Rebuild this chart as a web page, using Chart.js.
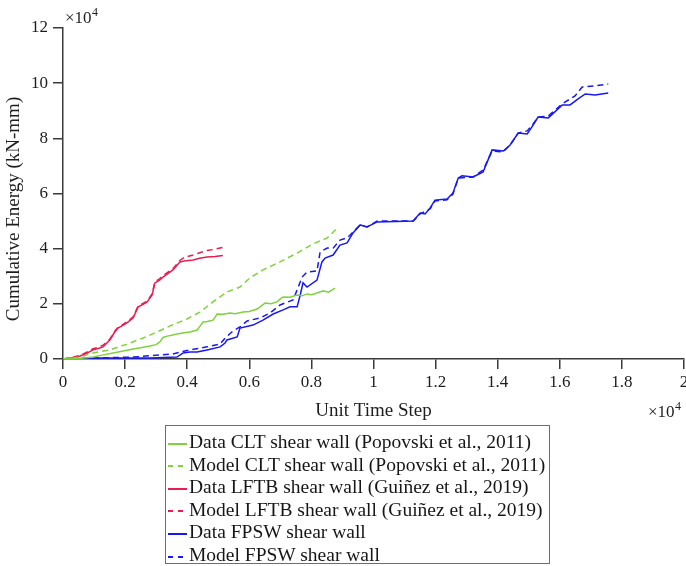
<!DOCTYPE html>
<html>
<head>
<meta charset="utf-8">
<script src="https://cdn.jsdelivr.net/npm/chart.js@4.4.1/dist/chart.umd.min.js"></script>
<style>
  html, body { margin: 0; padding: 0; background: #fff; }
  #wrap { position: relative; width: 686px; height: 566px; overflow: hidden; }
  #energyChart { position: absolute; left: 0; top: 0; }
  .legend {
    position: absolute; left: 165px; top: 425px; width: 385px; height: 139px;
    box-sizing: border-box; border: 1px solid #6e6e6e; padding-top: 5px;
    font-family: "Liberation Serif", "Times New Roman", serif; font-size: 19.5px; color: #161616;
  }
  .legend .row { height: 22.6px; line-height: 22.6px; white-space: nowrap; }
  .legend .swatch { display: inline-block; width: 19px; height: 2px; margin: 0 2px 0 2px; vertical-align: middle; }
</style>
</head>
<body>
<div id="wrap">
  <canvas id="energyChart" width="686" height="566"></canvas>
  <div class="legend" id="legend"></div>
</div>
<script>
// axis ticks (values are in units of 10^4)
const xTicks = [0, 0.2, 0.4, 0.6, 0.8, 1, 1.2, 1.4, 1.6, 1.8, 2];
const xTickLabels = ['0', '0.2', '0.4', '0.6', '0.8', '1', '1.2', '1.4', '1.6', '1.8', '2'];
const yTicks = [0, 2, 4, 6, 8, 10, 12];
const yTickLabels = ['0', '2', '4', '6', '8', '10', '12'];

// [unit time step, cumulative energy], both x 10^4
const cltData = [[0,0],[0.06,0.03],[0.097,0.07],[0.13,0.15],[0.161,0.22],[0.19,0.28],[0.226,0.36],[0.25,0.41],[0.28,0.47],[0.3,0.52],[0.312,0.62],[0.322,0.78],[0.335,0.83],[0.35,0.86],[0.367,0.91],[0.39,0.95],[0.409,0.98],[0.432,1.05],[0.442,1.2],[0.451,1.34],[0.465,1.36],[0.483,1.41],[0.49,1.52],[0.496,1.63],[0.515,1.62],[0.538,1.67],[0.555,1.64],[0.58,1.7],[0.6,1.72],[0.625,1.81],[0.638,1.92],[0.651,2.03],[0.67,2.0],[0.689,2.07],[0.7,2.18],[0.709,2.25],[0.73,2.24],[0.754,2.32],[0.77,2.29],[0.786,2.36],[0.8,2.33],[0.818,2.39],[0.838,2.47],[0.855,2.42],[0.876,2.57]];
const cltModel = [[0,0],[0.055,0.07],[0.097,0.22],[0.151,0.33],[0.206,0.54],[0.258,0.76],[0.303,0.98],[0.345,1.2],[0.399,1.45],[0.441,1.7],[0.483,2.07],[0.528,2.43],[0.57,2.61],[0.602,2.94],[0.644,3.23],[0.699,3.52],[0.754,3.84],[0.805,4.17],[0.851,4.39],[0.88,4.71]];
const lftbData = [[0,0],[0.032,0.05],[0.055,0.11],[0.075,0.2],[0.097,0.33],[0.113,0.38],[0.129,0.44],[0.151,0.69],[0.165,0.95],[0.177,1.12],[0.19,1.2],[0.206,1.31],[0.226,1.49],[0.242,1.89],[0.258,1.98],[0.271,2.07],[0.287,2.32],[0.296,2.76],[0.31,2.85],[0.322,2.97],[0.354,3.23],[0.367,3.4],[0.377,3.52],[0.39,3.55],[0.419,3.59],[0.44,3.65],[0.464,3.7],[0.49,3.72],[0.515,3.75]];
const lftbModel = [[0,0],[0.032,0.06],[0.055,0.13],[0.075,0.24],[0.097,0.37],[0.113,0.42],[0.129,0.5],[0.151,0.72],[0.165,0.98],[0.177,1.15],[0.19,1.23],[0.206,1.35],[0.226,1.53],[0.242,1.92],[0.258,2.02],[0.271,2.1],[0.287,2.36],[0.296,2.8],[0.31,2.9],[0.322,3.02],[0.354,3.27],[0.367,3.45],[0.377,3.58],[0.39,3.68],[0.419,3.77],[0.44,3.85],[0.464,3.93],[0.49,3.98],[0.515,4.05]];
const fpswData = [[0,0],[0.119,0.04],[0.28,0.04],[0.367,0.07],[0.387,0.22],[0.409,0.25],[0.432,0.25],[0.464,0.33],[0.506,0.44],[0.522,0.58],[0.528,0.69],[0.561,0.8],[0.57,1.12],[0.612,1.23],[0.644,1.41],[0.677,1.63],[0.709,1.78],[0.731,1.89],[0.754,1.89],[0.764,2.32],[0.773,2.76],[0.786,2.61],[0.818,2.86],[0.834,3.52],[0.844,3.66],[0.87,3.77],[0.892,4.13],[0.915,4.21],[0.934,4.57],[0.957,4.86],[0.979,4.79],[1.012,4.97],[1.128,5.0],[1.15,5.29],[1.166,5.26],[1.182,5.47],[1.198,5.76],[1.237,5.8],[1.256,6.02],[1.273,6.56],[1.285,6.64],[1.321,6.6],[1.353,6.78],[1.369,7.22],[1.382,7.58],[1.418,7.54],[1.44,7.76],[1.466,8.19],[1.495,8.16],[1.514,8.48],[1.53,8.77],[1.563,8.74],[1.608,9.21],[1.633,9.21],[1.659,9.43],[1.682,9.61],[1.714,9.57],[1.756,9.64]];
const fpswModel = [[0,0],[0.119,0.04],[0.226,0.07],[0.354,0.18],[0.377,0.25],[0.409,0.33],[0.464,0.44],[0.506,0.54],[0.522,0.76],[0.548,1.02],[0.57,1.16],[0.593,1.38],[0.635,1.49],[0.667,1.67],[0.699,1.96],[0.741,2.14],[0.764,2.79],[0.77,2.97],[0.786,3.15],[0.818,3.19],[0.828,3.88],[0.851,4.02],[0.87,4.02],[0.892,4.31],[0.915,4.39],[0.931,4.57],[0.957,4.86],[0.979,4.79],[1.012,5.0],[1.128,5.0],[1.15,5.26],[1.182,5.44],[1.198,5.73],[1.237,5.77],[1.256,5.98],[1.273,6.56],[1.321,6.6],[1.353,6.85],[1.382,7.54],[1.418,7.51],[1.44,7.76],[1.466,8.19],[1.495,8.27],[1.514,8.52],[1.53,8.77],[1.563,8.81],[1.608,9.25],[1.649,9.54],[1.672,9.86],[1.714,9.9],[1.756,9.97]];

const GREEN = '#7fd23c';
const RED = '#ea1c50';
const BLUE = '#1818f2';
const AXIS = '#3a3a3a';
const SERIF = '"Liberation Serif", "Times New Roman", serif';

const series = [
    { label: 'Data CLT shear wall (Popovski et al., 2011)', data: cltData, color: GREEN, dashed: false },
    { label: 'Model CLT shear wall (Popovski et al., 2011)', data: cltModel, color: GREEN, dashed: true },
    { label: 'Data LFTB shear wall (Guiñez et al., 2019)', data: lftbData, color: RED, dashed: false },
    { label: 'Model LFTB shear wall (Guiñez et al., 2019)', data: lftbModel, color: RED, dashed: true },
    { label: 'Data FPSW shear wall', data: fpswData, color: BLUE, dashed: false },
    { label: 'Model FPSW shear wall', data: fpswModel, color: BLUE, dashed: true }
];

// "x10^4" multipliers and the rotated y title
const extraLabels = {
    id: 'extraLabels',
    afterDraw(chart) {
        const ctx = chart.ctx;
        ctx.save();
        ctx.fillStyle = '#1e1e1e';
        ctx.textBaseline = 'alphabetic';
        ctx.textAlign = 'left';
        function exponent(x, y) {
            ctx.font = '17px ' + SERIF;
            ctx.fillText('\u00d710', x, y);
            const w = ctx.measureText('\u00d710').width;
            ctx.font = '12px ' + SERIF;
            ctx.fillText('4', x + w + 0.5, y - 7);
        }
        exponent(65, 23);
        exponent(648, 417);

        ctx.translate(14, 209);
        ctx.rotate(-Math.PI / 2);
        ctx.textAlign = 'center';
        ctx.textBaseline = 'middle';
        ctx.font = '19px ' + SERIF;
        ctx.fillText('Cumulative Energy (kN-mm)', 0, 0);
        ctx.restore();
    }
};

const ctx = document.getElementById('energyChart').getContext('2d');
new Chart(ctx, {
    type: 'line',
    data: {
        datasets: series.map(s => ({
            label: s.label,
            data: s.data.map(([x, y]) => ({ x: x, y: y })),
            borderColor: s.color,
            borderWidth: 1.5,
            borderDash: s.dashed ? [6, 4] : [],
            pointRadius: 0,
            tension: 0,
            fill: false
        }))
    },
    options: {
        responsive: false,
        animation: false,
        layout: { padding: { left: 0, right: 2, top: 28, bottom: 144 } },
        plugins: {
            legend: { display: false },
            tooltip: { enabled: false }
        },
        scales: {
            x: {
                type: 'linear',
                min: 0,
                max: 2,
                afterBuildTicks: scale => { scale.ticks = xTicks.map(v => ({ value: v })); },
                afterFit: scale => { scale.height = 63; scale.paddingLeft = 0; scale.paddingRight = 0; },
                ticks: {
                    color: '#1e1e1e',
                    padding: 3,
                    maxRotation: 0,
                    font: { family: SERIF, size: 17 },
                    callback: (v, i) => xTickLabels[i]
                },
                grid: { drawOnChartArea: false, drawTicks: true, tickLength: 10, color: AXIS, lineWidth: 1.5 },
                border: { display: true, color: AXIS, width: 1.5 },
                title: {
                    display: true,
                    text: 'Unit Time Step',
                    color: '#1e1e1e',
                    font: { family: SERIF, size: 19 },
                    padding: { top: 0, bottom: 0 }
                }
            },
            y: {
                type: 'linear',
                min: 0,
                max: 12,
                afterBuildTicks: scale => { scale.ticks = yTicks.map(v => ({ value: v })); },
                afterFit: scale => { scale.width = 63; },
                ticks: {
                    color: '#1e1e1e',
                    padding: 5,
                    font: { family: SERIF, size: 17 },
                    callback: (v, i) => yTickLabels[i]
                },
                grid: { drawOnChartArea: false, drawTicks: true, tickLength: 10, color: AXIS, lineWidth: 1.5 },
                border: { display: true, color: AXIS, width: 1.5 },
                title: { display: false }
            }
        }
    },
    plugins: [extraLabels]
});

// boxed legend under the axes
const legend = document.getElementById('legend');
series.forEach(s => {
    const row = document.createElement('div');
    row.className = 'row';
    const sw = document.createElement('span');
    sw.className = 'swatch';
    sw.style.background = s.dashed
        ? 'repeating-linear-gradient(to right, ' + s.color + ' 0 5px, transparent 5px 10px)'
        : s.color;
    row.appendChild(sw);
    row.appendChild(document.createTextNode(s.label));
    legend.appendChild(row);
});
</script>
</body>
</html>
